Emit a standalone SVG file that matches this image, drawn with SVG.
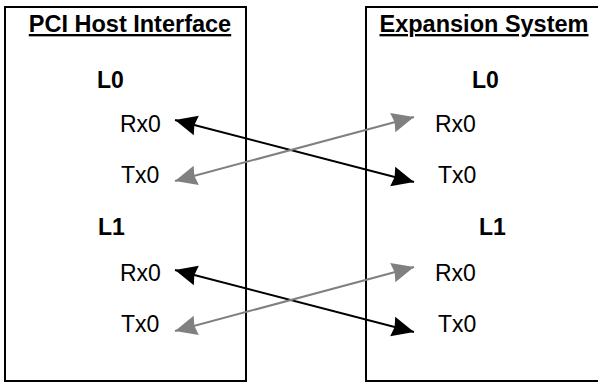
<svg xmlns="http://www.w3.org/2000/svg" width="598" height="383" viewBox="0 0 598 383">
<style>
.box{fill:#fff;stroke:#000;stroke-width:2}
.title{font-family:"Liberation Sans",Arial,sans-serif;font-weight:bold;font-size:23.5px;text-anchor:middle;text-decoration:underline}
.lane{font-family:"Liberation Sans",Arial,sans-serif;font-weight:bold;font-size:23px}
.port{font-family:"Liberation Sans",Arial,sans-serif;font-size:23px}
.blk{stroke:#000;stroke-width:2;fill:none;marker-start:url(#ab);marker-end:url(#ab)}
.gry{stroke:#808080;stroke-width:2;fill:none;marker-start:url(#ag);marker-end:url(#ag)}
</style>
<defs>
<marker id="ab" markerUnits="userSpaceOnUse" markerWidth="24" markerHeight="24" refX="22" refY="10" orient="auto-start-reverse" viewBox="0 0 24 24" overflow="visible">
<path d="M0,0 L22,10 L0,20 L2,10 z" fill="#000"/>
</marker>
<marker id="ag" markerUnits="userSpaceOnUse" markerWidth="24" markerHeight="24" refX="22" refY="10" orient="auto-start-reverse" viewBox="0 0 24 24" overflow="visible">
<path d="M0,0 L22,10 L0,20 L2,10 z" fill="#808080"/>
</marker>
</defs>
<rect width="598" height="383" fill="#fff"/>
<g id="pci-host">
<rect class="box" x="5" y="7" width="241" height="374"/>
<text class="title" x="130" y="32">PCI Host Interface</text>
<text class="lane" x="97" y="88">L0</text>
<text class="port" x="120" y="132">Rx0</text>
<text class="port" x="121" y="183">Tx0</text>
<text class="lane" x="98" y="235">L1</text>
<text class="port" x="120" y="281">Rx0</text>
<text class="port" x="121" y="332">Tx0</text>
</g>
<g id="expansion">
<rect class="box" x="366" y="7" width="245" height="374"/>
<text class="title" x="484" y="32">Expansion System</text>
<text class="lane" x="472" y="88">L0</text>
<text class="port" x="435" y="132">Rx0</text>
<text class="port" x="438" y="183">Tx0</text>
<text class="lane" x="479" y="235">L1</text>
<text class="port" x="435" y="281">Rx0</text>
<text class="port" x="438" y="332">Tx0</text>
</g>
<g id="connectors">
<line class="blk" x1="175" y1="120" x2="414" y2="182"/>
<line class="gry" x1="175" y1="181" x2="414" y2="117"/>
<line class="blk" x1="175" y1="270" x2="414" y2="332"/>
<line class="gry" x1="175" y1="331" x2="414" y2="267"/>
</g>
</svg>
